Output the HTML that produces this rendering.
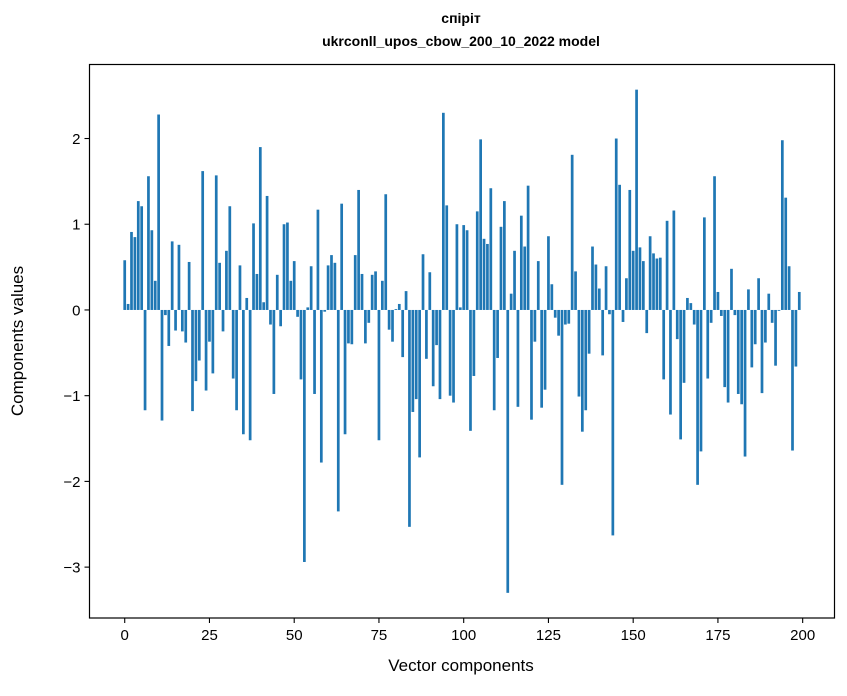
<!DOCTYPE html>
<html><head><meta charset="utf-8"><style>
body{margin:0;background:#fff;}
svg{display:block;font-family:"Liberation Sans","DejaVu Sans",sans-serif;}
</style></head><body>
<svg id="chart" width="847" height="696" viewBox="0 0 847 696" xmlns="http://www.w3.org/2000/svg">
<rect width="847" height="696" fill="#fff"/>
<text x="461" y="23" text-anchor="middle" font-size="14" font-weight="bold">спіріт</text>
<text x="461" y="46" text-anchor="middle" font-size="14" font-weight="bold">ukrconll_upos_cbow_200_10_2022 model</text>
<g id="bars"></g>
<g id="xaxis"></g>
<g id="yaxis"></g>
<rect x="89.5" y="64.5" width="745" height="553.5" fill="none" stroke="#000" stroke-width="1.2"/>
<text x="461" y="671" text-anchor="middle" font-size="17">Vector components</text>
<text transform="translate(23,341) rotate(-90)" text-anchor="middle" font-size="17">Components values</text>
</svg>
<script>
const values = [0.58,0.07,0.91,0.85,1.27,1.21,-1.17,1.56,0.93,0.34,
2.28,-1.29,-0.06,-0.42,0.80,-0.24,0.76,-0.25,-0.38,0.56,
-1.18,-0.83,-0.59,1.62,-0.94,-0.37,-0.74,1.57,0.55,-0.25,
0.69,1.21,-0.80,-1.17,0.52,-1.45,0.14,-1.52,1.01,0.42,
1.90,0.09,1.33,-0.17,-0.98,0.41,-0.19,1.00,1.02,0.34,
0.57,-0.08,-0.81,-2.94,0.03,0.51,-0.98,1.17,-1.78,-0.02,
0.52,0.64,0.55,-2.35,1.24,-1.45,-0.39,-0.40,0.64,1.40,
0.42,-0.39,-0.15,0.41,0.45,-1.52,0.34,1.35,-0.23,-0.37,
0.01,0.07,-0.55,0.22,-2.53,-1.19,-1.04,-1.72,0.65,-0.57,
0.44,-0.89,-0.41,-1.04,2.30,1.22,-1.00,-1.08,1.00,0.03,
0.99,0.93,-1.41,-0.77,1.15,1.99,0.83,0.77,1.42,-1.17,
-0.56,0.97,1.27,-3.30,0.19,0.69,-1.13,1.10,0.74,1.45,
-1.28,-0.37,0.57,-1.14,-0.93,0.86,0.30,-0.09,-0.30,-2.04,
-0.17,-0.16,1.81,0.45,-1.01,-1.42,-1.17,-0.51,0.74,0.53,
0.25,-0.53,0.51,-0.05,-2.63,2.00,1.46,-0.14,0.37,1.40,
0.69,2.57,0.73,0.57,-0.27,0.86,0.66,0.60,0.61,-0.81,
1.04,-1.22,1.16,-0.34,-1.51,-0.85,0.14,0.08,-0.17,-2.04,
-1.65,1.08,-0.80,-0.15,1.56,0.21,-0.07,-0.90,-1.08,0.48,
-0.06,-0.98,-1.10,-1.71,0.24,-0.67,-0.40,0.37,-0.97,-0.38,
0.19,-0.15,-0.65,-0.01,1.98,1.31,0.51,-1.64,-0.66,0.21];
const xTicks = [0,25,50,75,100,125,150,175,200];
const yTicks = [-3,-2,-1,0,1,2];

const NS = "http://www.w3.org/2000/svg";
const L = 89.5, R = 834.5, T = 64.5, B = 618;
const n = values.length;
const xmin0 = -0.4, xmax0 = n - 1 + 0.4;
const xpad = (xmax0 - xmin0) * 0.05;
const xmin = xmin0 - xpad, xmax = xmax0 + xpad;
const vmin = Math.min(0, ...values), vmax = Math.max(0, ...values);
const ypad = (vmax - vmin) * 0.05;
const ymin = vmin - ypad, ymax = vmax + ypad;
function xs(v){ return L + (v - xmin) / (xmax - xmin) * (R - L); }
function ys(v){ return B - (v - ymin) / (ymax - ymin) * (B - T); }

const bars = document.getElementById('bars');
values.forEach((v, i) => {
  const r = document.createElementNS(NS, 'rect');
  
  
  const x0 = xs(i - 0.4), x1 = xs(i + 0.4);
  const y0 = ys(Math.max(v, 0)), y1 = ys(Math.min(v, 0));
  r.setAttribute('x', x0);
  r.setAttribute('width', x1 - x0);
  r.setAttribute('y', y0);
  r.setAttribute('height', Math.max(y1 - y0, 0.3));
  r.setAttribute('fill', '#1f77b4');
  bars.appendChild(r);
});

const xa = document.getElementById('xaxis');
xTicks.forEach(t => {
  const x = xs(t);
  const ln = document.createElementNS(NS, 'line');
  
  
  ln.setAttribute('x1', x); ln.setAttribute('x2', x);
  ln.setAttribute('y1', B); ln.setAttribute('y2', B + 5);
  ln.setAttribute('stroke', '#000'); ln.setAttribute('stroke-width', '1.1');
  xa.appendChild(ln);
  const tx = document.createElementNS(NS, 'text');
  
  
  tx.setAttribute('x', x); tx.setAttribute('y', B + 22);
  tx.setAttribute('text-anchor', 'middle'); tx.setAttribute('font-size', '15');
  tx.textContent = String(t);
  xa.appendChild(tx);
});
const ya = document.getElementById('yaxis');
yTicks.forEach(t => {
  const y = ys(t);
  const ln = document.createElementNS(NS, 'line');
  
  
  ln.setAttribute('x1', L - 5); ln.setAttribute('x2', L);
  ln.setAttribute('y1', y); ln.setAttribute('y2', y);
  ln.setAttribute('stroke', '#000'); ln.setAttribute('stroke-width', '1.1');
  ya.appendChild(ln);
  const tx = document.createElementNS(NS, 'text');
  
  
  tx.setAttribute('x', L - 9); tx.setAttribute('y', y + 5.5);
  tx.setAttribute('text-anchor', 'end'); tx.setAttribute('font-size', '15');
  tx.textContent = t < 0 ? '\u2212' + Math.abs(t) : String(t);
  ya.appendChild(tx);
});
</script>
</body></html>
